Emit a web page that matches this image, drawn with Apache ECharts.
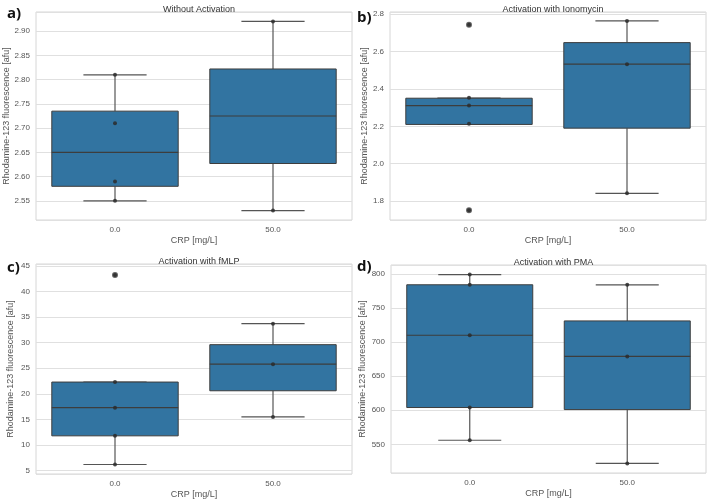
<!DOCTYPE html>
<html style="height: 100%">
<head>
<meta charset="utf-8">
</head>
<body style="height: 100%; margin: 0; background: #fff">
	<div id="container" style="width: 709px; height: 500px"></div>
	<script type="text/javascript" src="https://cdn.jsdelivr.net/npm/echarts@6/dist/echarts.min.js"></script>
	<script type="text/javascript">
		// categories
		var crpLevels = ['0.0', '50.0'];

		// box stats: [category, low whisker, q1, median, q3, high whisker]
		var boxNoAct = [[0, 2.55, 2.58, 2.65, 2.735, 2.81], [1, 2.53, 2.627, 2.725, 2.822, 2.92]];
		var boxIono = [[0, 2.21, 2.21, 2.31, 2.35, 2.35], [1, 1.842, 2.19, 2.532, 2.647, 2.763]];
		var boxFmlp = [[0, 6.2, 11.8, 17.3, 22.3, 22.3], [1, 15.5, 20.6, 25.8, 29.6, 33.7]];
		var boxPma = [[0, 556, 604, 710, 784, 799], [1, 522, 601, 679, 731, 784]];

		// single measurements (strip points)
		var dotsNoAct = [[0, 2.81], [0, 2.71], [0, 2.59], [0, 2.55], [1, 2.92], [1, 2.53]];
		var dotsIono = [[0, 2.743], [0, 2.352], [0, 2.311], [0, 2.213], [0, 1.751], [1, 2.763], [1, 2.532], [1, 1.842]];
		var dotsFmlp = [[0, 43.2], [0, 22.3], [0, 17.3], [0, 11.8], [0, 6.2], [1, 33.7], [1, 25.8], [1, 15.5]];
		var dotsPma = [[0, 799], [0, 784], [0, 710], [0, 604], [0, 556], [1, 784], [1, 679], [1, 522]];

		// outliers (fliers)
		var fliersNoAct = [];
		var fliersIono = [[0, 2.743], [0, 1.751]];
		var fliersFmlp = [[0, 43.2]];
		var fliersPma = [];

		var boxColor = '#3274a1';
		var lineColor = '#3d3d3d';
		var whiskColor = '#555555';
		var textColor = '#555555';
		var font = 'Liberation Sans';

		function renderBox(params, api) {
			var idx = api.value(0);
			var band = api.size([1, 0])[0];
			var half = band * 0.4, cap = band * 0.2;
			var lo = api.coord([idx, api.value(1)]);
			var q1 = api.coord([idx, api.value(2)]);
			var md = api.coord([idx, api.value(3)]);
			var q3 = api.coord([idx, api.value(4)]);
			var hi = api.coord([idx, api.value(5)]);
			var x = lo[0];
			var ws = { stroke: whiskColor, lineWidth: 1.2 };
			return {
				type: 'group',
				children: [
					{ type: 'line', shape: { x1: x, y1: q1[1], x2: x, y2: lo[1] }, style: ws },
					{ type: 'line', shape: { x1: x, y1: q3[1], x2: x, y2: hi[1] }, style: ws },
					{ type: 'line', shape: { x1: x - cap, y1: lo[1], x2: x + cap, y2: lo[1] }, style: ws },
					{ type: 'line', shape: { x1: x - cap, y1: hi[1], x2: x + cap, y2: hi[1] }, style: ws },
					{ type: 'rect', shape: { x: x - half, y: q3[1], width: 2 * half, height: q1[1] - q3[1] },
						style: { fill: boxColor, stroke: lineColor, lineWidth: 1 } },
					{ type: 'line', shape: { x1: x - half, y1: md[1], x2: x + half, y2: md[1] },
						style: { stroke: lineColor, lineWidth: 1.2 } }
				]
			};
		}

		var panels = [
			{ title: 'Without Activation', letter: 'a)', box: boxNoAct, dots: dotsNoAct, fliers: fliersNoAct,
				grid: { left: 36, top: 12, width: 316, height: 208 }, min: 2.5105, max: 2.9395, split: 8, dec: 2,
				titleTop: 0, letterPos: [2, 1], nameGap: 24 },
			{ title: 'Activation with Ionomycin', letter: 'b)', box: boxIono, dots: dotsIono, fliers: fliersIono,
				grid: { left: 390, top: 12, width: 316, height: 208 }, min: 1.6995, max: 2.8105, split: 5, dec: 1,
				titleTop: 0, letterPos: [352, 5], nameGap: 21 },
			{ title: 'Activation with fMLP', letter: 'c)', box: boxFmlp, dots: dotsFmlp, fliers: fliersFmlp,
				grid: { left: 36, top: 264, width: 316, height: 210 }, min: 4.35, max: 45.35, split: 8, dec: 0,
				titleTop: 252, letterPos: [2, 255], nameGap: 21 },
			{ title: 'Activation with PMA', letter: 'd)', box: boxPma, dots: dotsPma, fliers: fliersPma,
				grid: { left: 391, top: 265, width: 315, height: 208 }, min: 508, max: 813, split: 6, dec: 0,
				titleTop: 253, letterPos: [352, 254], nameGap: 24 }
		];

		var option = {
			backgroundColor: '#fff',
			animation: false,
			title: [], grid: [], xAxis: [], yAxis: [], series: []
		};

		panels.forEach(function (p, i) {
			option.title.push({
				text: p.title, left: p.grid.left + p.grid.width / 2, top: p.titleTop, textAlign: 'center',
				textStyle: { fontFamily: font, fontSize: 9, fontWeight: 'normal', color: '#333' }
			});
			option.title.push({
				text: p.letter, left: p.letterPos[0], top: p.letterPos[1],
				textStyle: { fontFamily: 'Open Sans', fontSize: 15, fontWeight: 'bold', color: '#111' }
			});
			option.grid.push({
				left: p.grid.left, top: p.grid.top, width: p.grid.width, height: p.grid.height,
				show: true, borderColor: '#d6d6d6', borderWidth: 1, backgroundColor: '#fff'
			});
			option.xAxis.push({
				type: 'category', gridIndex: i, data: crpLevels,
				name: 'CRP [mg/L]', nameLocation: 'middle', nameGap: 16,
				nameTextStyle: { fontFamily: font, fontSize: 9, color: textColor },
				axisLine: { show: false }, axisTick: { show: false }, splitLine: { show: false },
				axisLabel: { margin: 6, fontFamily: font, fontSize: 8, color: textColor }
			});
			option.yAxis.push({
				type: 'value', gridIndex: i, min: p.min, max: p.max, splitNumber: p.split,
				name: 'Rhodamine-123 fluorescence [afu]', nameLocation: 'middle', nameGap: p.nameGap,
				nameTextStyle: { fontFamily: font, fontSize: 9, color: textColor },
				axisLine: { show: false }, axisTick: { show: false },
				splitLine: { show: true, lineStyle: { color: '#e0e0e0', width: 1 } },
				axisLabel: {
					margin: 6, fontFamily: font, fontSize: 8, color: textColor,
					showMinLabel: false, showMaxLabel: false,
					formatter: (function (d) { return function (v) { return v.toFixed(d); }; })(p.dec)
				}
			});
			option.series.push({
				type: 'custom', xAxisIndex: i, yAxisIndex: i, renderItem: renderBox,
				encode: { x: 0, y: [1, 2, 3, 4, 5] }, data: p.box, z: 2
			});
			option.series.push({
				type: 'scatter', xAxisIndex: i, yAxisIndex: i, data: p.fliers,
				symbolSize: 6, itemStyle: { color: '#666666', opacity: 1 }, z: 3
			});
			option.series.push({
				type: 'scatter', xAxisIndex: i, yAxisIndex: i, data: p.dots,
				symbolSize: 4, itemStyle: { color: '#2b2b2b', opacity: 0.85 }, z: 4
			});
		});

		var myChart = echarts.init(document.getElementById('container'));
		myChart.setOption(option, true);
	</script>
</body>
</html>
